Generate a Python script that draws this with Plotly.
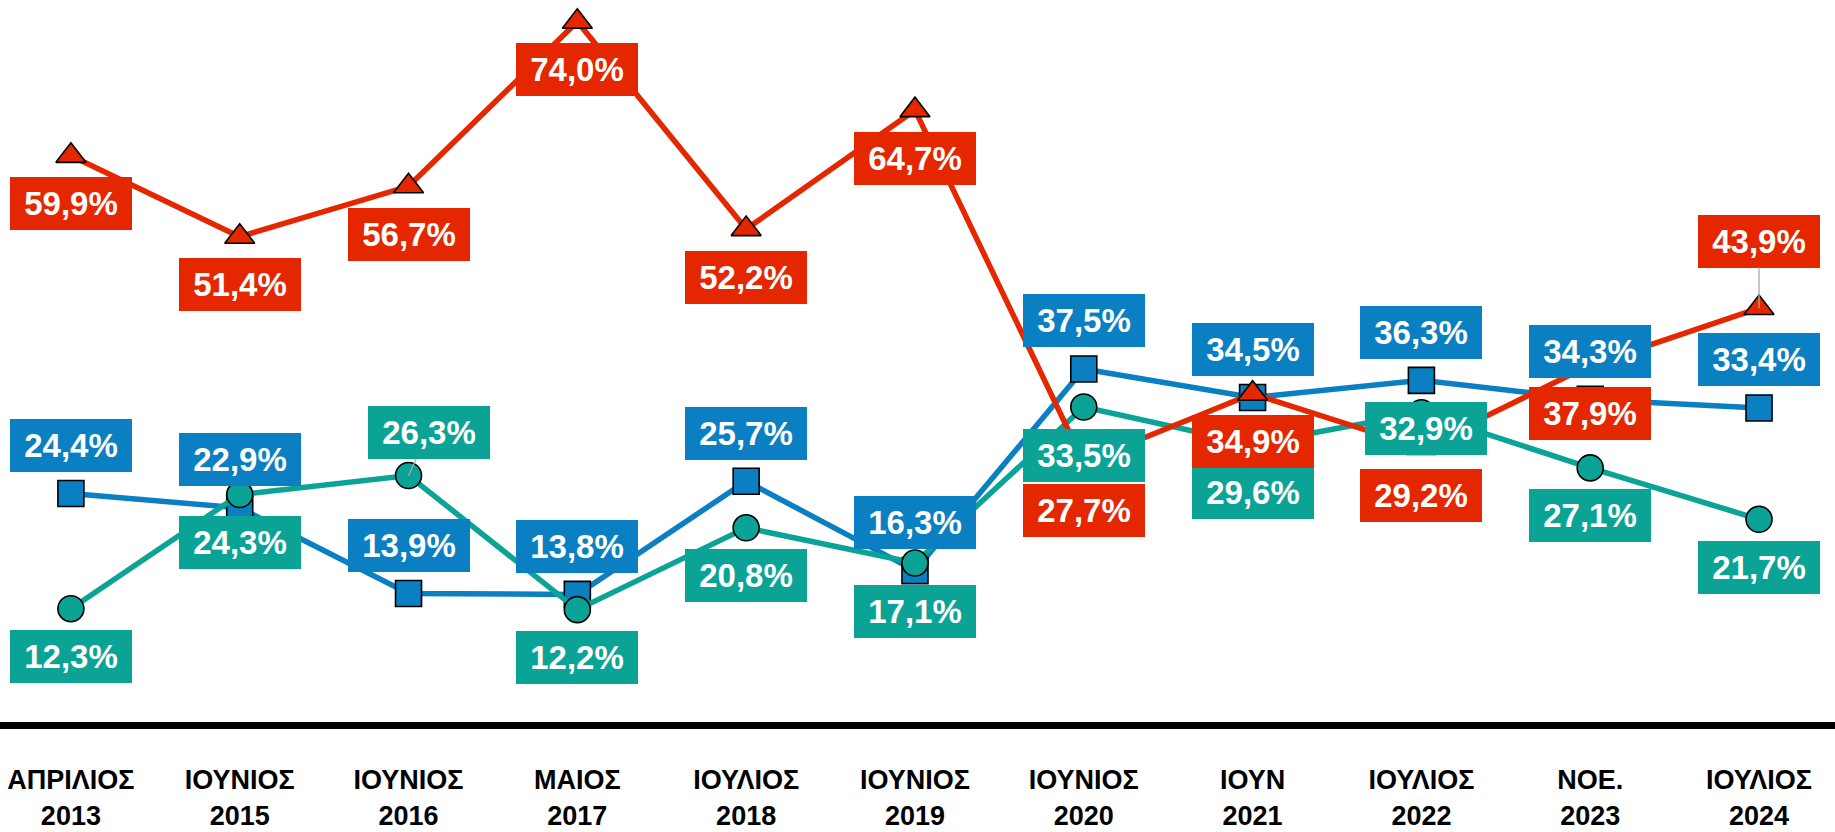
import plotly.graph_objects as go

# ---- data ----
months = ["ΑΠΡΙΛΙΟΣ", "ΙΟΥΝΙΟΣ", "ΙΟΥΝΙΟΣ", "ΜΑΙΟΣ", "ΙΟΥΛΙΟΣ", "ΙΟΥΝΙΟΣ",
          "ΙΟΥΝΙΟΣ", "ΙΟΥΝ", "ΙΟΥΛΙΟΣ", "ΝΟΕ.", "ΙΟΥΛΙΟΣ"]
years = ["2013", "2015", "2016", "2017", "2018", "2019", "2020", "2021", "2022", "2023", "2024"]
red_values = [59.9, 51.4, 56.7, 74.0, 52.2, 64.7, 27.7, 34.9, 29.2, 37.9, 43.9]
blue_values = [24.4, 22.9, 13.9, 13.8, 25.7, 16.3, 37.5, 34.5, 36.3, 34.3, 33.4]
teal_values = [12.3, 24.3, 26.3, 12.2, 20.8, 17.1, 33.5, 29.6, 32.9, 27.1, 21.7]

# ---- styles ----
RED = "#E52700"
BLUE = "#0A7FC2"
TEAL = "#0BA396"
FONT = "Liberation Sans"

x = list(range(len(years)))
ticktext = [f"<b>{m}<br>{y}</b>" for m, y in zip(months, years)]

fig = go.Figure()

series = [
    ("blue", blue_values, BLUE, "square"),
    ("teal", teal_values, TEAL, "circle"),
    ("red", red_values, RED, "triangle-up"),
]
for name, vals, col, sym in series:
    fig.add_trace(go.Scatter(
        x=x, y=vals, mode="lines+markers", name=name,
        line=dict(color=col, width=5.5),
        marker=dict(symbol=sym, size=26, color=col, line=dict(color="black", width=1.6)),
        cliponaxis=False, showlegend=False, hoverinfo="skip",
    ))

# label offsets in pixels (dx, dy), dy positive = below
label_offsets = {
    "red": [(0, 48)] * 10 + [(0, -67)],
    "blue": [(0, -48)] * 11,
    "teal": [(0, 48), (0, 48), (20, -43), (0, 48), (0, 48), (0, 48),
             (0, 48), (0, 48), (5, 16), (0, 48), (0, 48)],
}
leaders = {("red", 10), ("teal", 2)}

annotations = []
for name, vals, col, sym in series:
    for i, v in enumerate(vals):
        dx, dy = label_offsets[name][i]
        lead = (name, i) in leaders
        annotations.append(dict(
            x=x[i], y=v, xref="x", yref="y",
            text=f"<b>{v:.1f}%</b>".replace(".", ","),
            showarrow=True, ax=dx, ay=dy, arrowhead=0,
            arrowwidth=1.3 if lead else 0.1,
            arrowcolor="#A8A8A8" if lead else "rgba(0,0,0,0)",
            bgcolor=col, borderpad=4, borderwidth=0,
            width=114, height=45, align="center", valign="middle",
            font=dict(family=FONT, size=33, color="white"),
        ))

fig.update_layout(
    width=1835, height=832,
    margin=dict(l=0, r=0, t=0, b=110),
    paper_bgcolor="white", plot_bgcolor="white",
    annotations=annotations,
    xaxis=dict(
        range=[-0.42, 10.45], tickmode="array", tickvals=x, ticktext=ticktext,
        showgrid=False, zeroline=False, showline=True, linecolor="black", linewidth=7,
        ticks="", ticklabelstandoff=28,
        tickfont=dict(family=FONT, size=27, color="black"),
        automargin=False, fixedrange=True,
    ),
    yaxis=dict(range=[0.39, 76.28], visible=False, showgrid=False, zeroline=False,
               fixedrange=True),
)

fig.write_html("out.html", config={"displayModeBar": False},
               post_script="document.body.style.margin='0px';document.body.style.overflow='hidden';")
